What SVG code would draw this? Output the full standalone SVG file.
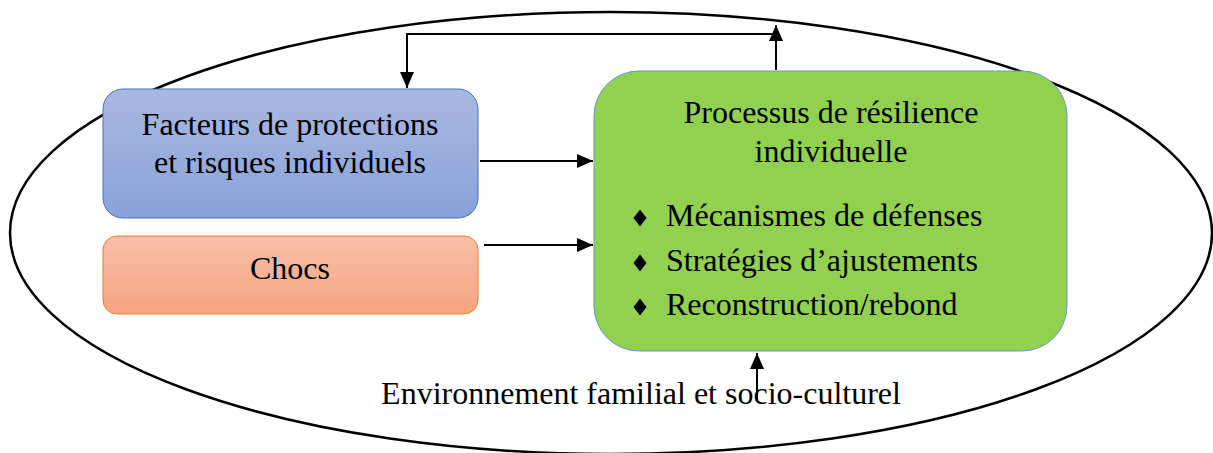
<svg xmlns="http://www.w3.org/2000/svg" width="1213" height="453" viewBox="0 0 1213 453">
<style>
  .t { font-family: "Liberation Serif", "Times New Roman", serif; font-size: 32px; fill: #000; }
  .c { text-anchor: middle; }
  .ln { fill: none; stroke: #000; stroke-width: 2; }
</style>
<defs>
  <linearGradient id="gBlue" x1="0" y1="0" x2="0" y2="1">
    <stop offset="0" stop-color="#A9B8E1"/>
    <stop offset="1" stop-color="#89A2D8"/>
  </linearGradient>
  <linearGradient id="gOrange" x1="0" y1="0" x2="0" y2="1">
    <stop offset="0" stop-color="#F7C0A7"/>
    <stop offset="1" stop-color="#F5A480"/>
  </linearGradient>
  <marker id="arr" viewBox="0 0 16 14" refX="16" refY="7" markerWidth="16" markerHeight="14" markerUnits="userSpaceOnUse" orient="auto">
    <path d="M0,0 L16,7 L0,14 Z" fill="#000"/>
  </marker>
  <polygon id="dia" points="0,-8.5 6.5,0 0,8.5 -6.5,0" fill="#000"/>
</defs>

<g id="environnement">
  <ellipse cx="611" cy="233" rx="601" ry="221" fill="none" stroke="#000" stroke-width="2.5"/>
  <text class="t c" x="641" y="404">Environnement familial et socio-culturel</text>
</g>

<g id="facteurs">
  <rect x="103" y="89" width="375" height="129" rx="20" fill="url(#gBlue)" stroke="#4472C4" stroke-width="1"/>
  <text class="t c" x="290" y="135">Facteurs de protections</text>
  <text class="t c" x="290" y="173">et risques individuels</text>
</g>

<g id="chocs">
  <rect x="103" y="236" width="375" height="78" rx="14" fill="url(#gOrange)" stroke="#ED7D31" stroke-width="1"/>
  <text class="t c" x="290" y="279">Chocs</text>
</g>

<g id="processus">
  <rect x="594" y="71" width="473" height="280" rx="45" fill="#92D050" stroke="#5B9BD5" stroke-width="1"/>
  <text class="t c" x="831" y="123">Processus de résilience</text>
  <text class="t c" x="831" y="162">individuelle</text>
  <use href="#dia" x="640" y="218"/>
  <text class="t" x="666" y="226">Mécanismes de défenses</text>
  <use href="#dia" x="640" y="263"/>
  <text class="t" x="666" y="271">Stratégies d’ajustements</text>
  <use href="#dia" x="640" y="307"/>
  <text class="t" x="666" y="315">Reconstruction/rebond</text>
</g>

<g id="connectors">
  <line class="ln" x1="480" y1="161" x2="593" y2="161" marker-end="url(#arr)"/>
  <line class="ln" x1="484" y1="245" x2="593" y2="245" marker-end="url(#arr)"/>
  <line class="ln" x1="776" y1="70" x2="776" y2="25" marker-end="url(#arr)"/>
  <path class="ln" d="M776,34 H407 V88" stroke-width="1.6" marker-end="url(#arr)"/>
  <line class="ln" x1="757" y1="400" x2="757" y2="353" marker-end="url(#arr)"/>
</g>
</svg>
